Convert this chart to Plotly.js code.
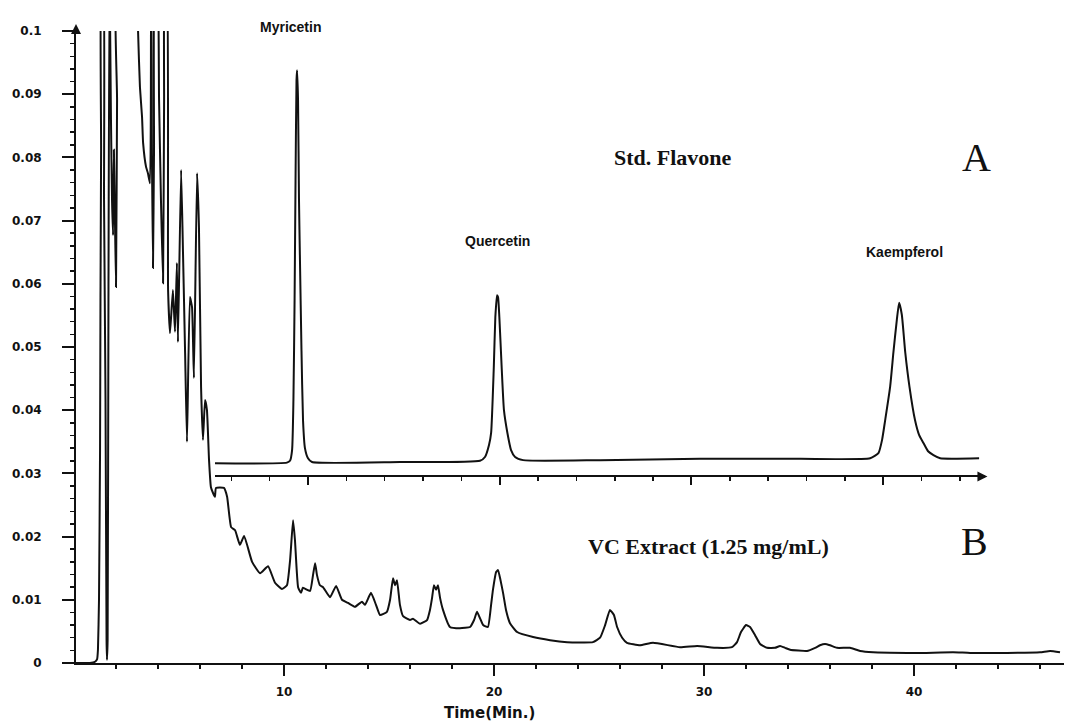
<!DOCTYPE html>
<html>
<head>
<meta charset="utf-8">
<script src="https://cdn.plot.ly/plotly-3.0.1.min.js"></script>
<style>html,body{margin:0;padding:0;background:#fff;}#chart{width:1066px;height:723px;}</style>
</head>
<body>
<div id="chart"></div>
<script>
// ---- Data ----
// B: VC Extract chromatogram, time (min) vs absorbance (values > 0.1 are off-scale)
var bTime = [
  0, 0.76, 1.00, 1.10, 1.14, 1.19, 1.24, 1.26, 1.29, 1.31,
  1.38, 1.43, 1.50, 1.55, 1.57, 1.60, 1.64, 1.69, 1.76, 1.81,
  1.86, 1.90, 1.95, 2.00, 2.05, 2.07, 3.00, 3.05, 3.14, 3.24,
  3.29, 3.43, 3.52, 3.62, 3.67, 3.71, 3.76, 3.81, 3.86, 3.95,
  4.05, 4.14, 4.24, 4.29, 4.33, 4.40, 4.48, 4.57, 4.71, 4.81,
  4.90, 4.95, 5.10, 5.19, 5.29, 5.38, 5.52, 5.62, 5.71, 5.86,
  5.95, 6.05, 6.14, 6.24, 6.33, 6.43, 6.52, 6.62, 6.71, 6.76,
  7.14, 7.29, 7.48, 7.67, 7.90, 8.10, 8.48, 8.86, 9.24, 9.57,
  9.90, 10.14, 10.29, 10.43, 10.52, 10.67, 10.81, 10.90, 11.24, 11.38,
  11.48, 11.57, 11.71, 11.86, 12.19, 12.48, 12.76, 13.05, 13.38, 13.71,
  13.86, 14.14, 14.38, 14.57, 14.90, 15.05, 15.19, 15.29, 15.38, 15.52,
  15.67, 16.00, 16.14, 16.48, 16.81, 16.95, 17.05, 17.14, 17.24, 17.33,
  17.43, 17.57, 17.90, 18.38, 18.86, 19.05, 19.19, 19.33, 19.48, 19.71,
  19.86, 19.95, 20.10, 20.19, 20.29, 20.43, 20.57, 20.76, 21.10, 21.86,
  22.67, 23.48, 24.71, 25.05, 25.29, 25.52, 25.71, 25.86, 26.10, 26.33,
  26.95, 27.57, 28.86, 29.67, 30.62, 31.33, 31.57, 31.76, 32.00, 32.19,
  32.43, 32.67, 33.00, 33.38, 33.62, 33.86, 34.10, 34.90, 35.29, 35.52,
  35.76, 36.00, 36.33, 36.95, 37.43, 38.05, 39.67, 40.43, 41.86, 42.67,
  44.43, 46.00, 46.48, 46.95
];
var bAbs = [
  0, 0, 0.0002, 0.0006, 0.0021, 0.0100, 0.0337, 0.0574, 0.0812, 0.11,
  0.11, 0.0733, 0.0416, 0.0036, 0.0005, 0.0036, 0.0574, 0.11, 0.0859, 0.0733,
  0.0677, 0.0812, 0.0701, 0.0595, 0.0891, 0.11, 0.11, 0.1000, 0.0911, 0.0864,
  0.0823, 0.0785, 0.0775, 0.0759, 0.11, 0.0812, 0.0625, 0.0812, 0.11, 0.11,
  0.0891, 0.0733, 0.0601, 0.0891, 0.11, 0.11, 0.0590, 0.0522, 0.0590, 0.0524,
  0.0633, 0.0508, 0.0780, 0.0649, 0.0491, 0.0350, 0.0579, 0.0563, 0.0451, 0.0775,
  0.0690, 0.0437, 0.0353, 0.0416, 0.0400, 0.0321, 0.0278, 0.0269, 0.0263, 0.0277,
  0.0277, 0.0263, 0.0215, 0.0210, 0.0187, 0.0201, 0.0160, 0.0142, 0.0153, 0.0127,
  0.0117, 0.0123, 0.0163, 0.0226, 0.0195, 0.0120, 0.0111, 0.0119, 0.0114, 0.0139,
  0.0158, 0.0139, 0.0123, 0.0120, 0.0104, 0.0122, 0.0100, 0.0095, 0.0089, 0.0097,
  0.0092, 0.0111, 0.0092, 0.0076, 0.0081, 0.0100, 0.0134, 0.0123, 0.0131, 0.0092,
  0.0074, 0.0068, 0.0070, 0.0062, 0.0068, 0.0084, 0.0103, 0.0123, 0.0116, 0.0123,
  0.0103, 0.0084, 0.0057, 0.0055, 0.0057, 0.0068, 0.0081, 0.0071, 0.0060, 0.0057,
  0.0092, 0.0116, 0.0144, 0.0147, 0.0134, 0.0111, 0.0084, 0.0063, 0.0049, 0.0041,
  0.0036, 0.0033, 0.0033, 0.0040, 0.0060, 0.0084, 0.0076, 0.0057, 0.0040, 0.0032,
  0.0028, 0.0032, 0.0025, 0.0027, 0.0024, 0.0025, 0.0033, 0.0049, 0.0060, 0.0057,
  0.0044, 0.0030, 0.0024, 0.0024, 0.0027, 0.0024, 0.0021, 0.0019, 0.0024, 0.0028,
  0.0030, 0.0028, 0.0024, 0.0024, 0.0019, 0.0017, 0.0016, 0.0016, 0.0017, 0.0016,
  0.0016, 0.0017, 0.0019, 0.0017
];

// A: Std. Flavone chromatogram (own time axis), absorbance as drawn (offset baseline)
var aTime = [
  5.15, 8.90, 9.06, 9.17, 9.24, 9.30, 9.35, 9.40, 9.43, 9.48,
  9.53, 9.58, 9.66, 9.74, 9.84, 10.00, 10.21, 14.80, 18.97, 19.23,
  19.44, 19.55, 19.69, 19.77, 19.86, 19.91, 19.98, 20.10, 20.22, 20.40,
  20.59, 20.80, 21.22, 25.23, 30.45, 35.66, 39.32, 39.75, 39.94, 40.10,
  40.36, 40.53, 40.71, 40.83, 40.97, 41.15, 41.37, 41.66, 41.87, 42.10,
  42.34, 42.62, 42.97, 45.00
];
var aAbs = [
  0.0316, 0.0317, 0.0320, 0.0337, 0.0416, 0.0574, 0.0764, 0.0922, 0.0938, 0.0891,
  0.0733, 0.0638, 0.0495, 0.0384, 0.0340, 0.0324, 0.0318, 0.0318, 0.0320, 0.0326,
  0.0345, 0.0364, 0.0468, 0.0547, 0.0582, 0.0579, 0.0547, 0.0468, 0.0400, 0.0364,
  0.0337, 0.0326, 0.0321, 0.0321, 0.0323, 0.0323, 0.0324, 0.0332, 0.0353, 0.0384,
  0.0437, 0.0491, 0.0543, 0.0570, 0.0551, 0.0491, 0.0437, 0.0384, 0.0361, 0.0348,
  0.0335, 0.0329, 0.0324, 0.0324
];

// Tick labels
var xTickVals = [10, 20, 30, 40];
var xTickText = ['10', '20', '30', '40'];
var aTickVals = [10, 20, 30, 40];
var yTickVals = [0, 0.01, 0.02, 0.03, 0.04, 0.05, 0.06, 0.07, 0.08, 0.09, 0.1];
var yTickText = ['0', '0.01', '0.02', '0.03', '0.04', '0.05', '0.06', '0.07', '0.08', '0.09', '0.1'];

// Text labels
var peakNames = ['Myricetin', 'Quercetin', 'Kaempferol'];
var panelTitles = ['Std. Flavone', 'VC Extract (1.25 mg/mL)'];
var panelLetters = ['A', 'B'];
var xTitle = 'Time(Min.)';

// ---- Layout / styles ----
var ink = '#111111';
var tickFont = {family: 'DejaVu Sans', size: 12, weight: 'bold', color: ink};
var peakFont = {family: 'Liberation Sans, Arial, sans-serif', size: 14, weight: 'bold', color: ink};
var titleFont = {family: 'Liberation Serif, Times New Roman, serif', size: 22, weight: 'bold', color: ink};
var letterFont = {family: 'Liberation Serif, Times New Roman, serif', size: 40, color: ink};

var peakLabelPos = [[0.2166, 1.0063], [0.4271, 0.6677], [0.8381, 0.6503]];
var panelTitlePos = [[0.6043, 0.8006], [0.6397, 0.1851]];
var panelLetterPos = [[0.9119, 0.7991], [0.9099, 0.1930]];

var annotations = [];
peakNames.forEach(function (n, i) {
  annotations.push({text: n, xref: 'paper', yref: 'paper', x: peakLabelPos[i][0], y: peakLabelPos[i][1],
    showarrow: false, xanchor: 'center', yanchor: 'middle', font: peakFont});
});
panelTitles.forEach(function (n, i) {
  annotations.push({text: n, xref: 'paper', yref: 'paper', x: panelTitlePos[i][0], y: panelTitlePos[i][1],
    showarrow: false, xanchor: 'center', yanchor: 'middle', font: titleFont});
});
panelLetters.forEach(function (n, i) {
  annotations.push({text: n, xref: 'paper', yref: 'paper', x: panelLetterPos[i][0], y: panelLetterPos[i][1],
    showarrow: false, xanchor: 'center', yanchor: 'middle', font: letterFont});
});
annotations.push({text: xTitle, xref: 'paper', yref: 'paper', x: 0.4190, y: -0.0791,
  showarrow: false, xanchor: 'center', yanchor: 'middle',
  font: {family: 'DejaVu Sans', size: 15, weight: 'bold', color: ink}});
// axis arrow heads
annotations.push({text: '', xref: 'paper', yref: 'paper', x: 0, y: 1.011, ax: 0, ay: 9,
  showarrow: true, arrowhead: 2, arrowsize: 1, arrowwidth: 2, arrowcolor: ink});
annotations.push({text: '', xref: 'paper', yref: 'paper', x: 0.9225, y: 0.2951, ax: -9, ay: 0,
  showarrow: true, arrowhead: 2, arrowsize: 1, arrowwidth: 2, arrowcolor: ink});

var traces = [
  {x: bTime, y: bAbs, type: 'scatter', mode: 'lines', xaxis: 'x', yaxis: 'y',
   line: {color: ink, width: 2, shape: 'spline', smoothing: 0.4}, hoverinfo: 'skip', name: 'VC Extract'},
  {x: aTime, y: aAbs, type: 'scatter', mode: 'lines', xaxis: 'x2', yaxis: 'y',
   line: {color: ink, width: 2, shape: 'spline', smoothing: 0.5}, hoverinfo: 'skip', name: 'Std. Flavone'}
];

var layout = {
  width: 1066, height: 723,
  margin: {l: 76, r: 2, t: 31, b: 60, pad: 0},
  paper_bgcolor: '#ffffff', plot_bgcolor: 'rgba(0,0,0,0)',
  showlegend: false,
  xaxis: {
    range: [0.095, 47.14], showgrid: false, zeroline: false,
    showline: true, linecolor: ink, linewidth: 2,
    ticks: 'outside', ticklen: 11, tickwidth: 2, tickcolor: ink,
    tickmode: 'array', tickvals: xTickVals, ticktext: xTickText,
    ticklabelstandoff: 6, tickfont: tickFont,
    minor: {tickmode: 'linear', tick0: 0, dtick: 2, ticks: 'outside', ticklen: 4, tickwidth: 1.5, tickcolor: ink}
  },
  yaxis: {
    range: [0, 0.1], showgrid: false, zeroline: false,
    showline: true, linecolor: ink, linewidth: 2,
    ticks: 'outside', ticklen: 12, tickwidth: 2, tickcolor: ink,
    tickmode: 'array', tickvals: yTickVals, ticktext: yTickText,
    ticklabelstandoff: 18, tickfont: tickFont,
    minor: {tickmode: 'linear', tick0: 0, dtick: 0.002, ticks: 'outside', ticklen: 4, tickwidth: 1.5, tickcolor: ink}
  },
  xaxis2: {
    domain: [0.1407, 0.9160], anchor: 'free', position: 0.2951,
    range: [5.15, 45.10], showgrid: false, zeroline: false,
    showline: true, linecolor: ink, linewidth: 2,
    ticks: 'outside', ticklen: 8, tickwidth: 2, tickcolor: ink,
    tickmode: 'array', tickvals: aTickVals, showticklabels: false,
    minor: {tickmode: 'linear', tick0: 0, dtick: 2, ticks: 'outside', ticklen: 4, tickwidth: 1.5, tickcolor: ink}
  },
  annotations: annotations
};

Plotly.newPlot('chart', traces, layout, {staticPlot: true, displayModeBar: false});
</script>
</body>
</html>
